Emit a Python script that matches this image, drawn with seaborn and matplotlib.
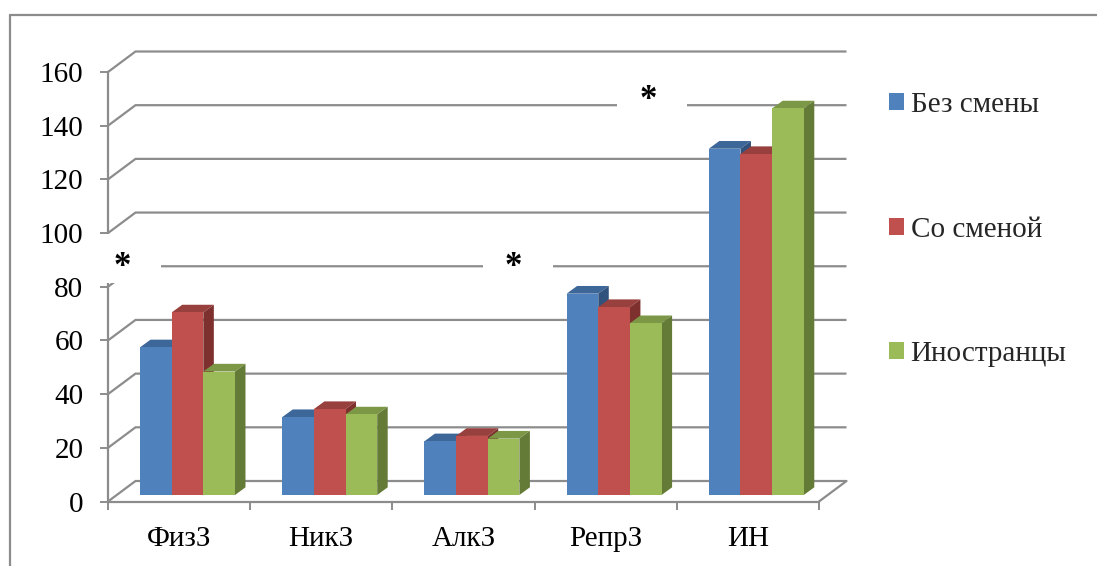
import numpy as np
import pandas as pd
import matplotlib
matplotlib.use("Agg")
import matplotlib.pyplot as plt
from matplotlib.patches import Polygon, Rectangle, Patch
from matplotlib.lines import Line2D
from matplotlib.colors import to_rgba
import seaborn as sns

# ---- data ----
categories = ["ФизЗ", "НикЗ", "АлкЗ", "РепрЗ", "ИН"]
groups = ["Без смены", "Со сменой", "Иностранцы"]
bez_smeny = [55, 29, 20, 75, 129]
so_smenoy = [68, 32, 22, 70, 127]
inostrantsy = [46, 30, 21, 64, 144]
y_ticks = [0, 20, 40, 60, 80, 100, 120, 140, 160]

# significance marks (category units, value units)
star_marks = [(-0.40, 87.2), (2.35, 87.0), (3.30, 149.5)]

# ---- style ----
front_cols = ["#4F81BD", "#C0504D", "#9BBB59"]
top_cols = ["#3D6699", "#98403D", "#7C9846"]
side_cols = ["#30527C", "#7E302E", "#647B37"]
GRID = "#8C8C8C"
FONT = ["Liberation Serif", "DejaVu Serif"]
FS = 21

sns.set_theme(style="white")
plt.rcParams["font.family"] = FONT

W, H = 1097, 566
fig = plt.figure(figsize=(W / 100, H / 100), dpi=100)
ax = fig.add_axes([108 / W, (H - 501.5) / H, 711 / W, 429.5 / H])

PX_X = 711 / 5.0        # pixels per category
PX_Y = 429.5 / 160.0    # pixels per value unit
WX, WY = 27.5 / PX_X, 20.5 / PX_Y   # depth of the back wall
SX, SY = 8.4 / PX_X, 6.5 / PX_Y     # bars sit part-way into the depth
DX, DY = 10.5 / PX_X, 7.7 / PX_Y    # bar thickness in depth

df = pd.DataFrame({
    "Категория": categories * 3,
    "Группа": np.repeat(groups, len(categories)),
    "Значение": bez_smeny + so_smenoy + inostrantsy,
})

sns.barplot(data=df, x="Категория", y="Значение", hue="Группа",
            hue_order=groups, palette=front_cols, saturation=1,
            width=0.668, errorbar=None, legend=False, ax=ax)

# turn the flat bars into boxes: shift into depth, add top and side faces
front_rgba = [to_rgba(c) for c in front_cols]
for p in list(ax.patches):
    fc = p.get_facecolor()
    k = int(np.argmin([sum((a - b) ** 2 for a, b in zip(fc, c)) for c in front_rgba]))
    x0 = p.get_x() + SX
    w = p.get_width()
    h = p.get_height()
    p.set_x(x0)
    p.set_y(SY)
    p.set_linewidth(0)
    z = 3 + (x0 + 1) * 0.1
    p.set_zorder(z + 0.02)
    yb, yt = SY, SY + h
    top = Polygon([(x0, yt), (x0 + w, yt), (x0 + w + DX, yt + DY), (x0 + DX, yt + DY)],
                  closed=True, fc=top_cols[k], ec="none", zorder=z, clip_on=False)
    side = Polygon([(x0 + w, yb), (x0 + w + DX, yb + DY), (x0 + w + DX, yt + DY), (x0 + w, yt)],
                   closed=True, fc=side_cols[k], ec="none", zorder=z + 0.01, clip_on=False)
    ax.add_patch(top)
    ax.add_patch(side)

ax.set_xlim(-0.5, 4.5)
ax.set_ylim(0, 160)

# back wall gridlines with left-wall diagonals
for v in y_ticks:
    ax.plot([-0.5, -0.5 + WX, 4.5 + WX], [v, v + WY, v + WY], color=GRID, lw=1.6,
            clip_on=False, zorder=1, solid_joinstyle="miter", solid_capstyle="butt")
ax.plot([4.5, 4.5 + WX], [0, WY], color=GRID, lw=1.6, clip_on=False, zorder=1)

# front axes
for s in ["top", "right"]:
    ax.spines[s].set_visible(False)
for s in ["left", "bottom"]:
    ax.spines[s].set_color(GRID)
    ax.spines[s].set_linewidth(1.6)
    ax.spines[s].set_zorder(1)

ax.set_yticks(y_ticks)
ax.set_yticklabels([str(v) for v in y_ticks])
ax.tick_params(axis="y", left=True, length=5.8, width=1.4, color=GRID, pad=12,
               labelsize=FS, labelcolor="black")
ax.set_xticks(np.arange(-0.5, 5.0, 1.0))
ax.set_xticklabels([])
ax.set_xticks(np.arange(len(categories)), minor=True)
ax.set_xticklabels(categories, minor=True)
ax.tick_params(axis="x", which="major", bottom=True, length=5.8, width=1.4, color=GRID)
ax.tick_params(axis="x", which="minor", bottom=False, length=0, pad=18,
               labelsize=FS, labelcolor="black")
ax.set_xlabel("")
ax.set_ylabel("")
ax.patch.set_visible(False)

# white label boxes with significance asterisks
boxes = [(-0.5914, 81.5, 0.4641, 18.2), (2.137, 81.5, 0.492, 18.2), (3.080, 143.0, 0.492, 19.0)]
for (bx, by, bw, bh) in boxes:
    ax.add_patch(Rectangle((bx, by), bw, bh, fc="white", ec="none", zorder=2, clip_on=False))
for (sx, sy) in star_marks:
    ax.text(sx, sy, "*", ha="center", va="center", fontsize=25, fontweight="bold",
            color="black", zorder=6, clip_on=False)

# legend
handles = [Patch(fc=c, ec="none") for c in front_cols]
fig.legend(handles, groups, loc="upper left", bbox_to_anchor=(889 / W, 1 - 92 / H),
           frameon=False, handlelength=0.52, handleheight=0.52, handletextpad=0.22,
           labelspacing=3.38, borderpad=0, borderaxespad=0, fontsize=FS)

# chart border
fig.add_artist(Line2D([10 / W, 1.0], [1 - 15 / H, 1 - 15 / H], color=GRID, lw=1.6))
fig.add_artist(Line2D([10 / W, 10 / W], [0.0, 1 - 15 / H], color=GRID, lw=1.6))

fig.savefig("out.png", dpi=100, facecolor="white")
